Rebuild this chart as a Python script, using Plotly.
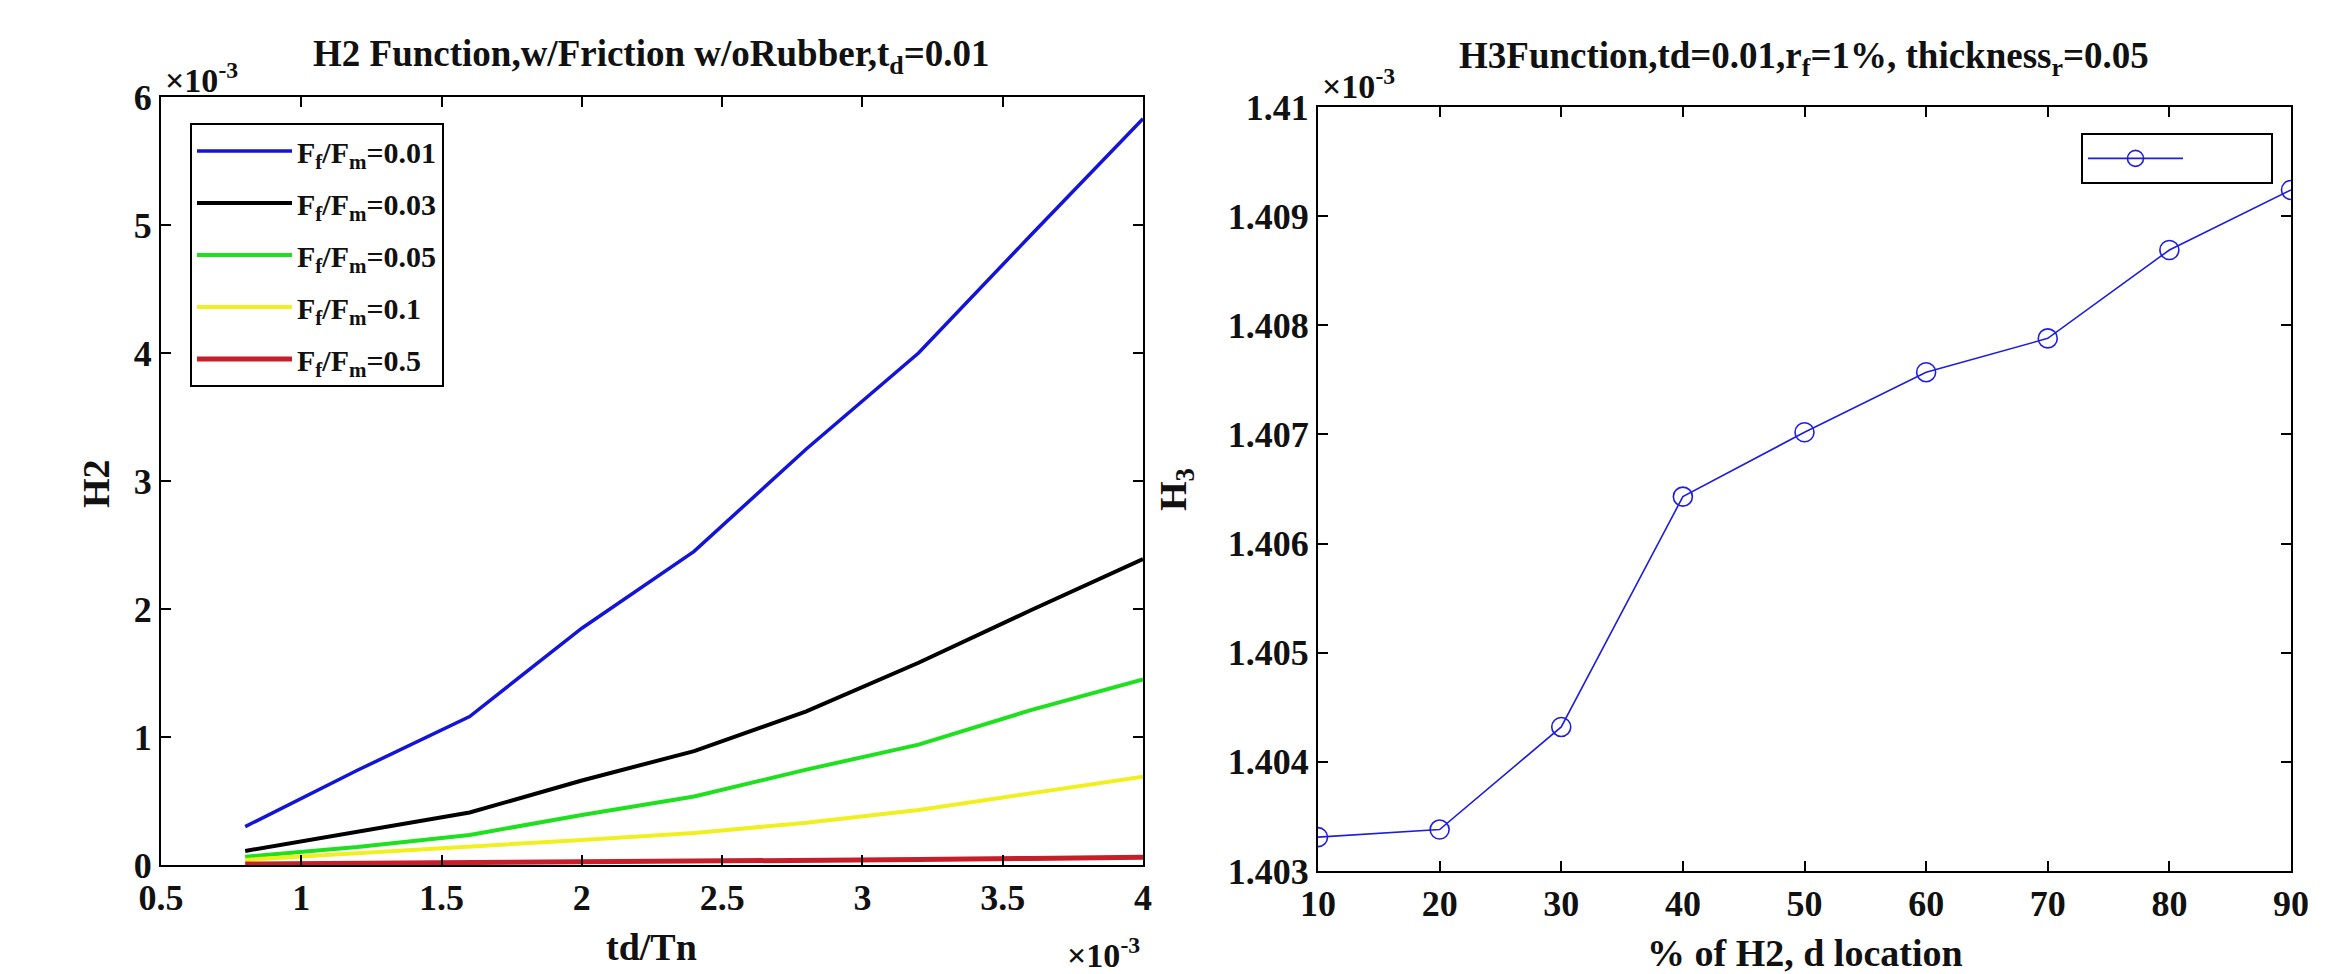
import plotly.graph_objects as go

W, H = 2336, 974

# ---------------- data (left panel) ----------------
# td/Tn values, in units of 1e-3
td_tn = [0.8, 1.2, 1.6, 2.0, 2.4, 2.8, 3.2, 3.6, 4.0]
# H2 values, in units of 1e-3
h2_ff001 = [0.30, 0.74, 1.16, 1.85, 2.45, 3.25, 4.00, 4.92, 5.83]
h2_ff003 = [0.11, 0.26, 0.41, 0.66, 0.89, 1.20, 1.58, 1.99, 2.39]
h2_ff005 = [0.065, 0.14, 0.235, 0.39, 0.535, 0.745, 0.94, 1.21, 1.45]
h2_ff01 = [0.04, 0.09, 0.145, 0.196, 0.25, 0.33, 0.43, 0.56, 0.69]
h2_ff05 = [0.008, 0.012, 0.017, 0.022, 0.028, 0.035, 0.042, 0.051, 0.06]
series_names = ["F<sub>f</sub>/F<sub>m</sub>=0.01", "F<sub>f</sub>/F<sub>m</sub>=0.03",
                "F<sub>f</sub>/F<sub>m</sub>=0.05", "F<sub>f</sub>/F<sub>m</sub>=0.1",
                "F<sub>f</sub>/F<sub>m</sub>=0.5"]
left_xticks = [0.5, 1, 1.5, 2, 2.5, 3, 3.5, 4]
left_xtick_labels = ["0.5", "1", "1.5", "2", "2.5", "3", "3.5", "4"]
left_yticks = [0, 1, 2, 3, 4, 5, 6]

# ---------------- data (right panel) ----------------
pct_h2 = [10, 20, 30, 40, 50, 60, 70, 80, 90]
# H3 values, in units of 1e-3
h3 = [1.40331, 1.40338, 1.40432, 1.40643, 1.40702, 1.40757, 1.40788, 1.40869, 1.40924]
right_yticks = [1.403, 1.404, 1.405, 1.406, 1.407, 1.408, 1.409, 1.41]
right_ytick_labels = ["1.403", "1.404", "1.405", "1.406", "1.407", "1.408", "1.409", "1.41"]
right_xticks = [10, 20, 30, 40, 50, 60, 70, 80, 90]

# ---------------- styling ----------------
FONT = "Liberation Serif"
TXT = "#111"
colors = ["#1414d8", "#000000", "#1ee01e", "#f0f020", "#c81e2a"]
widths = [3.5, 4, 4, 4, 5]

def px_x(p):
    return p / W

def px_y(p):
    return 1 - p / H

fig = go.Figure()

left_series = [h2_ff001, h2_ff003, h2_ff005, h2_ff01, h2_ff05]
for i, (ys, name) in enumerate(zip(left_series, series_names)):
    fig.add_trace(go.Scatter(
        x=td_tn, y=ys, mode="lines", name=name,
        line=dict(color=colors[i], width=widths[i]),
        xaxis="x", yaxis="y", legend="legend", legendgroup=f"g{i}",
    ))

fig.add_trace(go.Scatter(
    x=pct_h2, y=h3, mode="lines+markers", name="\u00a0" * 12,
    line=dict(color="#1e1ee0", width=1.6),
    marker=dict(symbol="circle-open", size=19, color="#1e1ee0", line=dict(width=1.6)),
    xaxis="x2", yaxis="y2", legend="legend2", showlegend=True,
))

axis_common = dict(
    showline=True, linecolor="black", linewidth=2, mirror="ticks",
    ticks="inside", ticklen=10, tickwidth=1.5, tickcolor="black",
    showgrid=False, zeroline=False, automargin=False,
    tickfont=dict(family=FONT, size=36, color=TXT, weight="bold"),
)

fig.update_layout(
    width=W, height=H,
    margin=dict(l=0, r=0, t=0, b=0),
    paper_bgcolor="white", plot_bgcolor="white",
    font=dict(family=FONT, color=TXT, weight="bold"),
    xaxis=dict(domain=[px_x(161), px_x(1143)], range=[0.5, 4],
               tickvals=left_xticks, ticktext=left_xtick_labels, anchor="y", **axis_common),
    yaxis=dict(domain=[px_y(865), px_y(97)], range=[0, 6],
               tickvals=left_yticks, anchor="x", **axis_common),
    xaxis2=dict(domain=[px_x(1318), px_x(2291)], range=[10, 90],
                tickvals=right_xticks, anchor="y2", **axis_common),
    yaxis2=dict(domain=[px_y(871), px_y(107)], range=[1.403, 1.41],
                tickvals=right_yticks, ticktext=right_ytick_labels, anchor="x2", **axis_common),
    legend=dict(
        x=px_x(190), y=px_y(123), xanchor="left", yanchor="top",
        bgcolor="white", bordercolor="black", borderwidth=2,
        font=dict(family=FONT, size=30, color=TXT, weight="bold"),
        tracegroupgap=10, traceorder="grouped", itemwidth=95,
    ),
    legend2=dict(
        x=px_x(2081), y=px_y(133), xanchor="left", yanchor="top",
        bgcolor="white", bordercolor="black", borderwidth=2,
        font=dict(family=FONT, size=26, color=TXT),
        itemwidth=95,
    ),
    showlegend=True,
)

ann_font = dict(family=FONT, color=TXT, weight="bold")
annotations = [
    # titles
    dict(text="H2 Function,w/Friction w/oRubber,t<sub>d</sub>=0.01", x=px_x(651), y=px_y(82),
         xanchor="center", yanchor="bottom", font=dict(size=37, **ann_font)),
    dict(text="H3Function,td=0.01,r<sub>f</sub>=1%, thickness<sub>r</sub>=0.05", x=px_x(1804), y=px_y(84),
         xanchor="center", yanchor="bottom", font=dict(size=37, **ann_font)),
    # axis labels
    dict(text="td/Tn", x=px_x(651), y=px_y(947), xanchor="center", yanchor="middle",
         font=dict(size=38, **ann_font)),
    dict(text="H2", x=px_x(96), y=px_y(484), xanchor="center", yanchor="middle", textangle=-90,
         font=dict(size=38, **ann_font)),
    dict(text="% of H2, d location", x=px_x(1805), y=px_y(953), xanchor="center", yanchor="middle",
         font=dict(size=38, **ann_font)),
    dict(text="H<sub>3</sub>", x=px_x(1176), y=px_y(490), xanchor="center", yanchor="middle", textangle=-90,
         font=dict(size=38, **ann_font)),
    # exponent labels
    dict(text="×10<sup>-3</sup>", x=px_x(163), y=px_y(78), xanchor="left", yanchor="middle",
         font=dict(size=34, family=FONT, color=TXT)),
    dict(text="×10<sup>-3</sup>", x=px_x(1142), y=px_y(953), xanchor="right", yanchor="middle",
         font=dict(size=34, family=FONT, color=TXT)),
    dict(text="×10<sup>-3</sup>", x=px_x(1320), y=px_y(84), xanchor="left", yanchor="middle",
         font=dict(size=34, family=FONT, color=TXT)),
]
for a in annotations:
    a.update(xref="paper", yref="paper", showarrow=False)
fig.update_layout(annotations=annotations)

fig.write_html("out.html", config={"displayModeBar": False},
               post_script="document.body.style.margin='0';document.body.style.overflow='hidden';")
